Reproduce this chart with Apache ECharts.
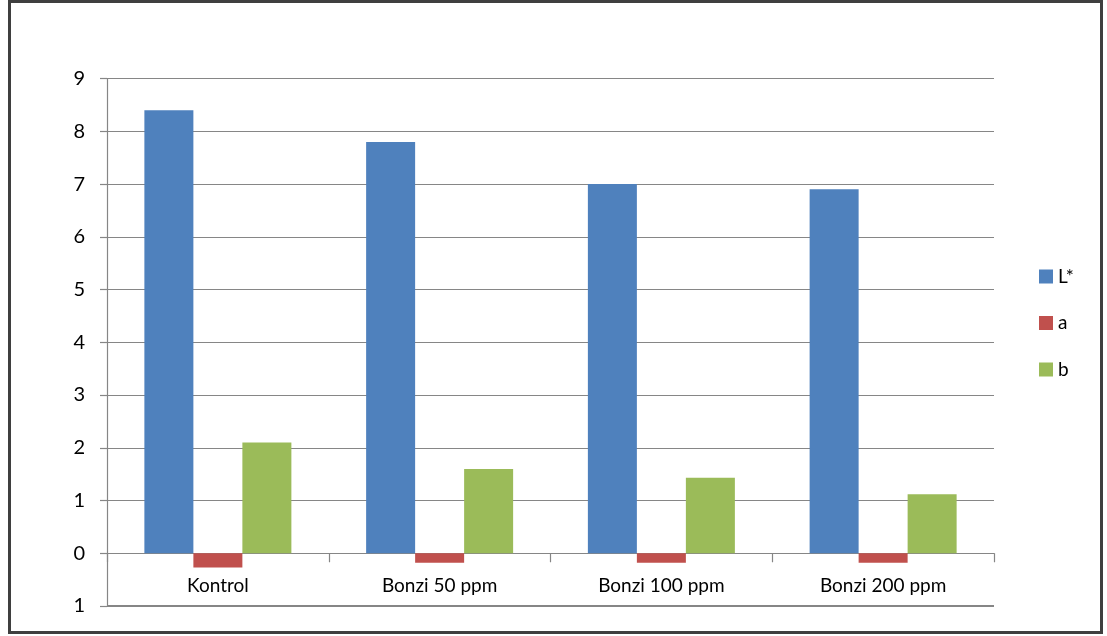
<!DOCTYPE html>
<html>
<head>
<meta charset="utf-8">
<style>
  html, body { margin: 0; padding: 0; background: #fff; }
  #chart { width: 1107px; height: 636px; }
</style>
<script src="https://cdn.jsdelivr.net/npm/echarts@6/dist/echarts.min.js"></script>
</head>
<body>
<div id="chart"></div>
<script>
// Colour measurements per treatment
const categories = ['Kontrol', 'Bonzi 50 ppm', 'Bonzi 100 ppm', 'Bonzi 200 ppm'];
const seriesNames = ['L*', 'a', 'b'];
const valuesL = [8.4, 7.8, 7.0, 6.9];
const valuesA = [-0.27, -0.18, -0.18, -0.18];
const valuesB = [2.1, 1.6, 1.43, 1.12];
// Tick labels of the value axis, from -1 up to 9
const yTickValues = [-1, 0, 1, 2, 3, 4, 5, 6, 7, 8, 9];
const yTickLabels = ['1', '0', '1', '2', '3', '4', '5', '6', '7', '8', '9'];

const colors = ['#4F81BD', '#C0504D', '#9BBB59'];
const font = 'Lato, "Open Sans", "Liberation Sans", sans-serif';
const grey = '#868686';

const chart = echarts.init(document.getElementById('chart'), null, { renderer: 'canvas' });

function bar(name, data, color) {
  return {
    name: name,
    type: 'bar',
    data: data,
    barWidth: 49,
    barGap: '0%',
    itemStyle: { color: color },
    emphasis: { disabled: true }
  };
}

const seriesL = bar(seriesNames[0], valuesL, colors[0]);
// heavier rule along the bottom of the value range
seriesL.markLine = {
  silent: true,
  symbol: 'none',
  label: { show: false },
  lineStyle: { color: grey, width: 2.2, type: 'solid' },
  data: [{ yAxis: yTickValues[0] }]
};

chart.setOption({
  animation: false,
  color: colors,
  textStyle: { fontFamily: font },
  graphic: [{
    type: 'rect',
    shape: { x: 9.5, y: 1.5, width: 1092, height: 631 },
    style: { fill: 'none', stroke: '#3f3f3f', lineWidth: 3 },
    silent: true
  }],
  grid: { left: 107, right: 113, top: 78.6, bottom: 30, containLabel: false, outerBoundsMode: 'none' },
  legend: {
    orient: 'vertical',
    left: 1034,
    top: 262,
    itemWidth: 14,
    itemHeight: 14,
    itemGap: 27.5,
    icon: 'rect',
    data: seriesNames,
    textStyle: { fontFamily: font, fontSize: 19, color: '#000' }
  },
  xAxis: {
    type: 'category',
    data: categories,
    axisLine: { onZero: true, lineStyle: { color: grey, width: 1.2 } },
    axisTick: { show: true, length: 9, alignWithLabel: false, lineStyle: { color: grey, width: 1.2 } },
    axisLabel: { margin: -30, fontFamily: font, fontSize: 19, color: '#000' }
  },
  yAxis: {
    type: 'value',
    min: yTickValues[0],
    max: yTickValues[yTickValues.length - 1],
    interval: 1,
    axisLine: { show: true, lineStyle: { color: grey, width: 1.2 } },
    axisTick: { show: true, length: 7, lineStyle: { color: grey, width: 1.2 } },
    splitLine: { show: true, lineStyle: { color: grey, width: 1.2 } },
    axisLabel: {
      margin: 22,
      fontFamily: font,
      fontSize: 20,
      color: '#000',
      formatter: function (v) {
        const i = yTickValues.indexOf(v);
        return i >= 0 ? yTickLabels[i] : '';
      }
    }
  },
  series: [
    seriesL,
    bar(seriesNames[1], valuesA, colors[1]),
    bar(seriesNames[2], valuesB, colors[2])
  ]
});
</script>
</body>
</html>
